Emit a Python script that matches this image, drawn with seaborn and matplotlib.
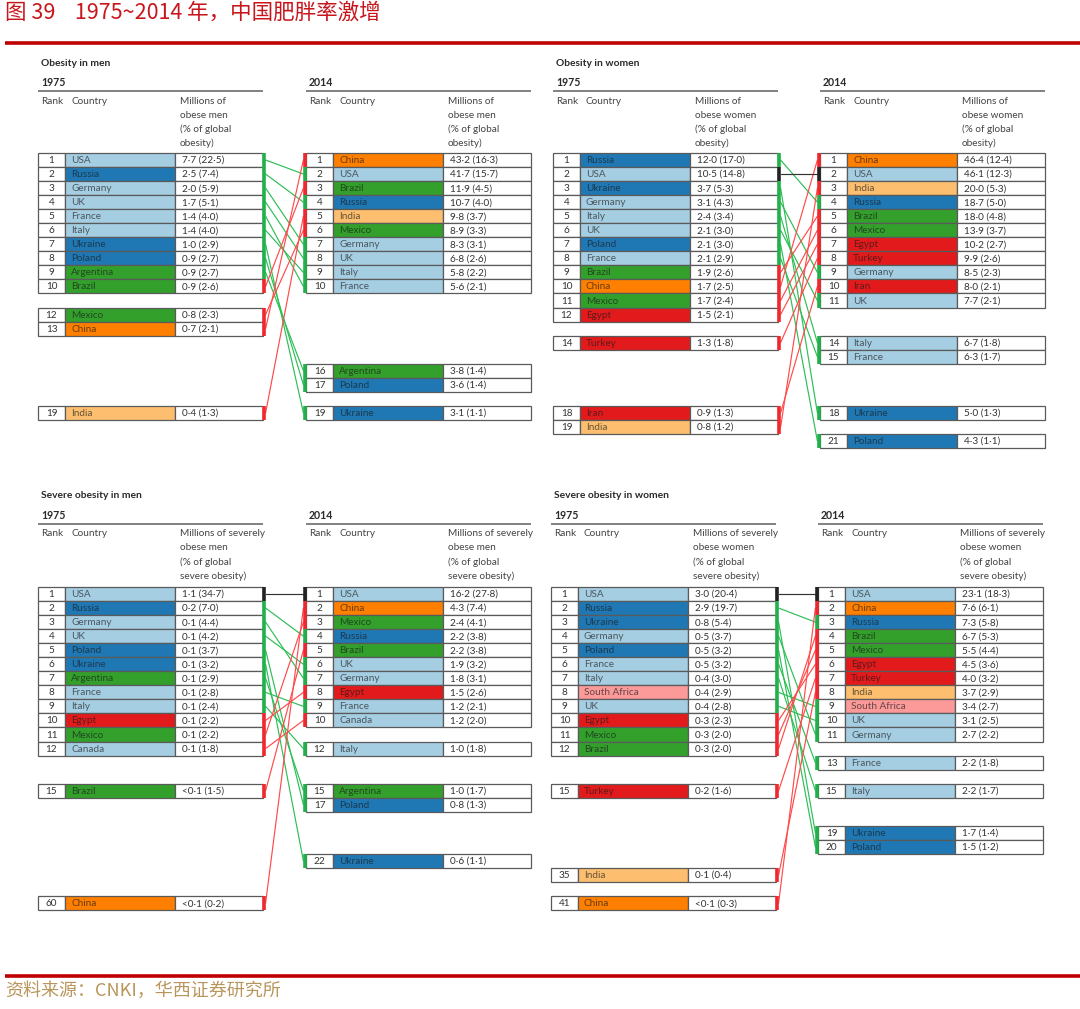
import numpy as np
import pandas as pd
import matplotlib
matplotlib.use("Agg")
import matplotlib.pyplot as plt
import seaborn as sns

# ---------------------------------------------------------------- DATA
# Obesity in men
men75_country = ["USA", "Russia", "Germany", "UK", "France", "Italy", "Ukraine", "Poland",
                 "Argentina", "Brazil", "Mexico", "China", "India"]
men75_rank = [1, 2, 3, 4, 5, 6, 7, 8, 9, 10, 12, 13, 19]
men75_mill = [7.7, 2.5, 2.0, 1.7, 1.4, 1.4, 1.0, 0.9, 0.9, 0.9, 0.8, 0.7, 0.4]
men75_pct = [22.5, 7.4, 5.9, 5.1, 4.0, 4.0, 2.9, 2.7, 2.7, 2.6, 2.3, 2.1, 1.3]

men14_country = ["China", "USA", "Brazil", "Russia", "India", "Mexico", "Germany", "UK",
                 "Italy", "France", "Argentina", "Poland", "Ukraine"]
men14_rank = [1, 2, 3, 4, 5, 6, 7, 8, 9, 10, 16, 17, 19]
men14_mill = [43.2, 41.7, 11.9, 10.7, 9.8, 8.9, 8.3, 6.8, 5.8, 5.6, 3.8, 3.6, 3.1]
men14_pct = [16.3, 15.7, 4.5, 4.0, 3.7, 3.3, 3.1, 2.6, 2.2, 2.1, 1.4, 1.4, 1.1]

# Obesity in women
wom75_country = ["Russia", "USA", "Ukraine", "Germany", "Italy", "UK", "Poland", "France",
                 "Brazil", "China", "Mexico", "Egypt", "Turkey", "Iran", "India"]
wom75_rank = [1, 2, 3, 4, 5, 6, 7, 8, 9, 10, 11, 12, 14, 18, 19]
wom75_mill = [12.0, 10.5, 3.7, 3.1, 2.4, 2.1, 2.1, 2.1, 1.9, 1.7, 1.7, 1.5, 1.3, 0.9, 0.8]
wom75_pct = [17.0, 14.8, 5.3, 4.3, 3.4, 3.0, 3.0, 2.9, 2.6, 2.5, 2.4, 2.1, 1.8, 1.3, 1.2]

wom14_country = ["China", "USA", "India", "Russia", "Brazil", "Mexico", "Egypt", "Turkey",
                 "Germany", "Iran", "UK", "Italy", "France", "Ukraine", "Poland"]
wom14_rank = [1, 2, 3, 4, 5, 6, 7, 8, 9, 10, 11, 14, 15, 18, 21]
wom14_mill = [46.4, 46.1, 20.0, 18.7, 18.0, 13.9, 10.2, 9.9, 8.5, 8.0, 7.7, 6.7, 6.3, 5.0, 4.3]
wom14_pct = [12.4, 12.3, 5.3, 5.0, 4.8, 3.7, 2.7, 2.6, 2.3, 2.1, 2.1, 1.8, 1.7, 1.3, 1.1]

# Severe obesity in men
smen75_country = ["USA", "Russia", "Germany", "UK", "Poland", "Ukraine", "Argentina", "France",
                  "Italy", "Egypt", "Mexico", "Canada", "Brazil", "China"]
smen75_rank = [1, 2, 3, 4, 5, 6, 7, 8, 9, 10, 11, 12, 15, 60]
smen75_mill = [1.1, 0.2, 0.1, 0.1, 0.1, 0.1, 0.1, 0.1, 0.1, 0.1, 0.1, 0.1, "<0.1", "<0.1"]
smen75_pct = [34.7, 7.0, 4.4, 4.2, 3.7, 3.2, 2.9, 2.8, 2.4, 2.2, 2.2, 1.8, 1.5, 0.2]

smen14_country = ["USA", "China", "Mexico", "Russia", "Brazil", "UK", "Germany", "Egypt",
                  "France", "Canada", "Italy", "Argentina", "Poland", "Ukraine"]
smen14_rank = [1, 2, 3, 4, 5, 6, 7, 8, 9, 10, 12, 15, 17, 22]
smen14_mill = [16.2, 4.3, 2.4, 2.2, 2.2, 1.9, 1.8, 1.5, 1.2, 1.2, 1.0, 1.0, 0.8, 0.6]
smen14_pct = [27.8, 7.4, 4.1, 3.8, 3.8, 3.2, 3.1, 2.6, 2.1, 2.0, 1.8, 1.7, 1.3, 1.1]

# Severe obesity in women
swom75_country = ["USA", "Russia", "Ukraine", "Germany", "Poland", "France", "Italy",
                  "South Africa", "UK", "Egypt", "Mexico", "Brazil", "Turkey", "India", "China"]
swom75_rank = [1, 2, 3, 4, 5, 6, 7, 8, 9, 10, 11, 12, 15, 35, 41]
swom75_mill = [3.0, 2.9, 0.8, 0.5, 0.5, 0.5, 0.4, 0.4, 0.4, 0.3, 0.3, 0.3, 0.2, 0.1, "<0.1"]
swom75_pct = [20.4, 19.7, 5.4, 3.7, 3.2, 3.2, 3.0, 2.9, 2.8, 2.3, 2.0, 2.0, 1.6, 0.4, 0.3]

swom14_country = ["USA", "China", "Russia", "Brazil", "Mexico", "Egypt", "Turkey", "India",
                  "South Africa", "UK", "Germany", "France", "Italy", "Ukraine", "Poland"]
swom14_rank = [1, 2, 3, 4, 5, 6, 7, 8, 9, 10, 11, 13, 15, 19, 20]
swom14_mill = [23.1, 7.6, 7.3, 6.7, 5.5, 4.5, 4.0, 3.7, 3.4, 3.1, 2.7, 2.2, 2.2, 1.7, 1.5]
swom14_pct = [18.3, 6.1, 5.8, 5.3, 4.4, 3.6, 3.2, 2.9, 2.7, 2.5, 2.2, 1.8, 1.7, 1.4, 1.2]

country_group = {
    "USA": 0, "Germany": 0, "UK": 0, "France": 0, "Italy": 0, "Canada": 0,   # light blue
    "Russia": 1, "Ukraine": 1, "Poland": 1,                                   # dark blue
    "Argentina": 3, "Brazil": 3, "Mexico": 3,                                 # green
    "South Africa": 4,                                                        # pink
    "Egypt": 5, "Turkey": 5, "Iran": 5,                                       # red
    "India": 6,                                                               # light orange
    "China": 7,                                                               # orange
}

title_text = "图 39    1975~2014 年，中国肥胖率激增"
source_text = "资料来源：CNKI，华西证券研究所"

# ---------------------------------------------------------------- LAYOUT
# row slots (vertical placement of each row inside its table)
men75_slot = [r - 1 for r in men75_rank]
men14_slot = [r - 1 for r in men14_rank]
wom75_slot = [0, 1, 2, 3, 4, 5, 6, 7, 8, 9, 10, 11, 13, 18, 19]
wom14_slot = [0, 1, 2, 3, 4, 5, 6, 7, 8, 9, 10, 13, 14, 18, 20]
smen75_slot = [0, 1, 2, 3, 4, 5, 6, 7, 8, 9, 10, 11, 14, 22]
smen14_slot = [0, 1, 2, 3, 4, 5, 6, 7, 8, 9, 11, 14, 15, 19]
swom75_slot = [0, 1, 2, 3, 4, 5, 6, 7, 8, 9, 10, 11, 14, 20, 22]
swom14_slot = [0, 1, 2, 3, 4, 5, 6, 7, 8, 9, 10, 12, 14, 17, 18]

panels = [
    dict(title="Obesity in men", x1=38, x2=306, top=63, row0=160,
         head="Millions of\nobese men\n(% of global\nobesity)",
         t75=(men75_country, men75_rank, men75_mill, men75_pct, men75_slot),
         t14=(men14_country, men14_rank, men14_mill, men14_pct, men14_slot)),
    dict(title="Obesity in women", x1=553, x2=820, top=63, row0=160,
         head="Millions of\nobese women\n(% of global\nobesity)",
         t75=(wom75_country, wom75_rank, wom75_mill, wom75_pct, wom75_slot),
         t14=(wom14_country, wom14_rank, wom14_mill, wom14_pct, wom14_slot)),
    dict(title="Severe obesity in men", x1=38, x2=306, top=496, row0=594,
         head="Millions of severely\nobese men\n(% of global\nsevere obesity)",
         t75=(smen75_country, smen75_rank, smen75_mill, smen75_pct, smen75_slot),
         t14=(smen14_country, smen14_rank, smen14_mill, smen14_pct, smen14_slot)),
    dict(title="Severe obesity in women", x1=551, x2=818, top=496, row0=594,
         head="Millions of severely\nobese women\n(% of global\nsevere obesity)",
         t75=(swom75_country, swom75_rank, swom75_mill, swom75_pct, swom75_slot),
         t14=(swom14_country, swom14_rank, swom14_mill, swom14_pct, swom14_slot)),
]

RH = 14.05
W_RANK, W_COUNTRY, W_VAL = 27, 110, 88
TW = W_RANK + W_COUNTRY + W_VAL
DIR_COLOR = {"down": "#22B04B", "up": "#F0282D", "same": "#222222"}
LINE_COLOR = {"down": "#2DBE55", "up": "#FF4A4A", "same": "#333333"}
FS = 7.2

# ---------------------------------------------------------------- STYLE
sns.set_theme(style="white")
plt.rcParams["font.family"] = ["Lato", "DejaVu Sans"]
pal = sns.color_palette("Paired")

fig = plt.figure(figsize=(10.8, 10.09), dpi=100)
ax = fig.add_axes([0, 0, 1, 1])


def fmt(v):
    s = v if isinstance(v, str) else f"{v:.1f}"
    return s.replace(".", "·")


def draw_table(left, row0, tab, dirs, side):
    countries, ranks, mills, pcts, slots = tab
    ys = row0 + np.array(slots) * RH
    n = len(countries)
    ec = "#5a5a5a"
    ax.barh(ys, [W_RANK] * n, left=left, height=RH, color="white", edgecolor=ec, linewidth=0.9, zorder=2)
    ax.barh(ys, [W_COUNTRY] * n, left=left + W_RANK, height=RH,
            color=[pal[country_group[c]] for c in countries], edgecolor=ec, linewidth=0.9, zorder=2)
    ax.barh(ys, [W_VAL] * n, left=left + W_RANK + W_COUNTRY, height=RH, color="white",
            edgecolor=ec, linewidth=0.9, zorder=2)
    for y, c, r, m, p in zip(ys, countries, ranks, mills, pcts):
        ax.text(left + W_RANK / 2, y + 0.5, str(r), ha="center", va="center", fontsize=FS,
                color="#333333", zorder=4)
        ax.text(left + W_RANK + 6, y + 0.5, c, ha="left", va="center", fontsize=FS,
                color="#1a1a1a", alpha=0.66, zorder=4)
        ax.text(left + W_RANK + W_COUNTRY + 7, y + 0.5, f"{fmt(m)} ({fmt(p)})", ha="left",
                va="center", fontsize=FS, color="#333333", zorder=4)
    # colored edge markers
    xb = left + TW + 1.3 if side == "right" else left - 1.3
    for y, c in zip(ys, countries):
        ax.vlines(xb, y - RH / 2, y + RH / 2, color=DIR_COLOR[dirs[c]], linewidth=2.6, zorder=5)
    return dict(zip(countries, ys))


conn_rows = []
for pi, P in enumerate(panels):
    c75, r75 = P["t75"][0], P["t75"][1]
    c14, r14 = P["t14"][0], P["t14"][1]
    rank75 = dict(zip(c75, r75))
    rank14 = dict(zip(c14, r14))
    dirs = {}
    for c in c75:
        a, b = rank75[c], rank14[c]
        dirs[c] = "down" if b > a else ("up" if b < a else "same")

    top = P["top"]
    ax.text(P["x1"] + 3, top, P["title"], ha="left", va="center", fontsize=7.4,
            fontweight="bold", color="#2a2a2a")
    for xl, yr in [(P["x1"], "1975"), (P["x2"], "2014")]:
        ax.text(xl + 3, top + 19.5, yr, ha="left", va="center", fontsize=7.6,
                fontweight="bold", color="#2a2a2a")
        ax.hlines(top + 28, xl, xl + TW, color="#777777", linewidth=1.3)
        ax.text(xl + 3, top + 38, "Rank", ha="left", va="center", fontsize=FS, color="#444444")
        ax.text(xl + 33, top + 38, "Country", ha="left", va="center", fontsize=FS, color="#444444")
        for k, line in enumerate(P["head"].split("\n")):
            ax.text(xl + W_RANK + W_COUNTRY + 5, top + 38 + 14 * k, line, ha="left",
                    va="center", fontsize=FS, color="#444444")

    y75 = draw_table(P["x1"], P["row0"], P["t75"], dirs, "right")
    y14 = draw_table(P["x2"], P["row0"], P["t14"], dirs, "left")
    for c in c75:
        uid = f"{pi}-{c}"
        conn_rows.append(dict(x=P["x1"] + TW + 2.6, y=y75[c], uid=uid, d=dirs[c]))
        conn_rows.append(dict(x=P["x2"] - 2.6, y=y14[c], uid=uid, d=dirs[c]))

conn = pd.DataFrame(conn_rows)
sns.lineplot(data=conn, x="x", y="y", units="uid", estimator=None, hue="d",
             palette=LINE_COLOR, legend=False, linewidth=0.85, sort=False, ax=ax, zorder=1)

# header / footer
ax.text(5, 13, title_text, ha="left", va="center", fontsize=15.5,
        color="#C8161D", family=["Noto Sans CJK SC", "DejaVu Sans"])
ax.hlines(43, 5, 1080, color="#C00000", linewidth=2.6)
ax.hlines(976, 5, 1080, color="#C00000", linewidth=2.6)
ax.text(5, 991, source_text, ha="left", va="center", fontsize=13,
        color="#B8955A", family=["Noto Sans CJK SC", "DejaVu Sans"])

ax.set_xlim(0, 1080)
ax.set_ylim(1009, 0)
ax.set_axis_off()
fig.savefig("out.png", dpi=100, facecolor="white")
